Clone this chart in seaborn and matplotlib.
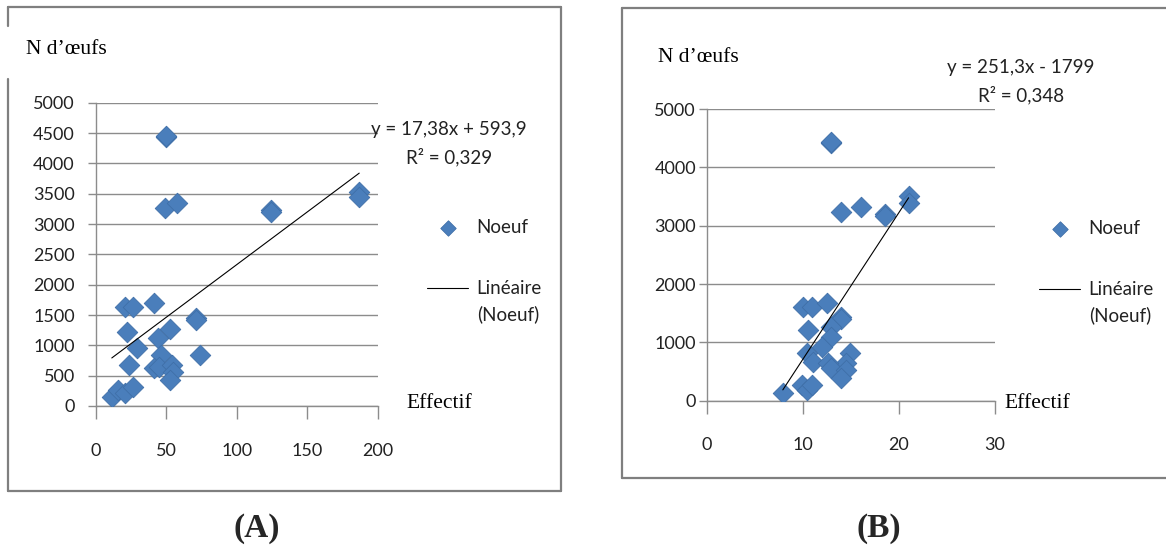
import numpy as np
import pandas as pd
import matplotlib
matplotlib.use("Agg")
import matplotlib.pyplot as plt
from matplotlib.lines import Line2D
import seaborn as sns

# ---------------- data ----------------
effectif_A = [49.8, 49.6, 48.8, 57.6, 124, 124, 186.7, 186.7, 20.6, 26.3, 41.2, 70.9, 70.9,
              22.0, 52.6, 43.8, 29.4, 46.0, 73.7, 23.9, 41.5, 44.5, 53.8, 54.5, 52.4,
              11.4, 16.1, 20.6, 26.3]
oeufs_A = [4430, 4455, 3258, 3341, 3231, 3200, 3533, 3440, 1626, 1626, 1692, 1456, 1418,
           1225, 1269, 1121, 951, 835, 841, 681, 632, 648, 676, 566, 429,
           154, 264, 220, 308]
effectif_B = [12.96, 12.9, 14.0, 16.0, 18.5, 18.5, 21.0, 21.0, 9.95, 10.9, 12.5, 14.0, 14.0,
              10.5, 12.96, 12.96, 12.0, 10.4, 14.9, 14.5, 11.0, 12.6, 12.96, 14.5, 14.0,
              7.9, 9.85, 10.4, 10.96]
oeufs_B = [4410, 4440, 3229, 3326, 3200, 3170, 3510, 3390, 1600, 1600, 1669, 1440, 1400,
           1211, 1269, 1086, 926, 811, 811, 640, 669, 640, 554, 526, 383,
           126, 269, 183, 269]

slope_A, intercept_A, r2_A = 17.38, 593.9, 0.329
slope_B, intercept_B, r2_B = 251.3, -1799, 0.348
eq_A = ["y = 17,38x + 593,9", "R² = 0,329"]
eq_B = ["y = 251,3x - 1799", "R² = 0,348"]

xticks_A = [0, 50, 100, 150, 200]
xticks_B = [0, 10, 20, 30]
yticks_A = [0, 500, 1000, 1500, 2000, 2500, 3000, 3500, 4000, 4500, 5000]
yticks_B = [0, 1000, 2000, 3000, 4000, 5000]

series_label = "Noeuf"
trend_label = "Linéaire"
trend_label2 = "(Noeuf)"
ylabel = "N d’œufs"
xlabel = "Effectif"
panel_labels = ["(A)", "(B)"]

# ---------------- style ----------------
sns.set_style("white")
plt.rcParams['font.family'] = ['Lato', 'DejaVu Sans']

W, H = 1166, 548
fig = plt.figure(figsize=(W / 100, H / 100), dpi=100)

def fx(px):
    return px / W

def fy(py):
    return 1 - py / H

GRAY = '#8c8c8c'
BLUE = '#4A7EBB'
TXT = '#222222'
SERIF = ['Liberation Serif', 'DejaVu Serif']

def panel(ax_rect, eff, oeufs, slope, intercept, xticks, yticks, ytickpad, xtickpad):
    ax = fig.add_axes(ax_rect)
    df = pd.DataFrame({'Effectif': eff, 'Noeuf': oeufs})
    sns.scatterplot(data=df, x='Effectif', y='Noeuf', marker='D', s=110,
                    color=BLUE, edgecolor='#3f6fa8', linewidth=0.6, ax=ax,
                    label=series_label, zorder=3)
    xs = np.array([min(eff), max(eff)])
    tdf = pd.DataFrame({'x': xs, 'y': slope * xs + intercept})
    sns.lineplot(data=tdf, x='x', y='y', color='black', linewidth=0.8, ax=ax,
                 label=trend_label, zorder=4)
    ax.set_xlim(xticks[0], xticks[-1])
    ax.set_ylim(yticks[0], yticks[-1])
    ax.set_xticks(xticks)
    ax.set_yticks(yticks)
    ax.set_xlabel('')
    ax.set_ylabel('')
    for s in ['top', 'right']:
        ax.spines[s].set_visible(False)
    for s in ['left', 'bottom']:
        ax.spines[s].set_color(GRAY)
        ax.spines[s].set_linewidth(1.0)
    ax.yaxis.grid(True, color=GRAY, linewidth=1.0)
    ax.xaxis.grid(False)
    ax.set_axisbelow(True)
    ax.tick_params(axis='y', direction='out', length=6, width=1, color=GRAY,
                   labelsize=13, labelcolor=TXT, pad=ytickpad, left=True)
    ax.tick_params(axis='x', direction='out', length=9, width=1, color=GRAY,
                   labelsize=13, labelcolor=TXT, pad=xtickpad, bottom=True)
    ax.get_legend().remove()
    return ax

axA = panel([fx(95.7), fy(406), fx(378) - fx(95.7), fy(102.7) - fy(406)],
            effectif_A, oeufs_A, slope_A, intercept_A, xticks_A, yticks_A, 9, 18)
axB = panel([fx(707), fy(400.7), fx(995) - fx(707), fy(109) - fy(400.7)],
            effectif_B, oeufs_B, slope_B, intercept_B, xticks_B, yticks_B, 2, 17)

# legends
legs = []
for ax, x0, y0 in [(axA, 427, 219), (axB, 1039, 220)]:
    h, l = ax.get_legend_handles_labels()
    leg = ax.legend(h, l, loc='upper left', bbox_to_anchor=(fx(x0), fy(y0)),
                    bbox_transform=fig.transFigure, frameon=False, fontsize=13.5,
                    handlelength=2.2, handletextpad=0.45, labelspacing=2.35,
                    borderpad=0, borderaxespad=0, markerscale=0.75)
    for t in leg.get_texts():
        t.set_color(TXT)
    legs.append(leg)

# equations
for lines, cx, y1, y2 in [(eq_A, 449, 129, 157), (eq_B, 1021, 67, 95)]:
    fig.text(fx(cx), fy(y1), lines[0], ha='center', va='center', fontsize=13.5, color=TXT)
    fig.text(fx(cx), fy(y2), lines[1], ha='center', va='center', fontsize=13.5, color=TXT)

# axis labels (serif)
fig.text(fx(26), fy(49), ylabel, ha='left', va='center', fontsize=15.5, family=SERIF, color='black')
fig.text(fx(658), fy(58), ylabel, ha='left', va='center', fontsize=15.5, family=SERIF, color='black')
fig.text(fx(406), fy(403), xlabel, ha='left', va='center', fontsize=15.5, family=SERIF, color='black')
fig.text(fx(1004), fy(403), xlabel, ha='left', va='center', fontsize=15.5, family=SERIF, color='black')

# panel labels
fig.text(fx(257), fy(528), panel_labels[0], ha='center', va='center', fontsize=24,
         family=SERIF, weight='bold')
fig.text(fx(879), fy(528), panel_labels[1], ha='center', va='center', fontsize=24,
         family=SERIF, weight='bold')

# panel borders
def seg(x1, y1, x2, y2):
    fig.add_artist(Line2D([fx(x1), fx(x2)], [fy(y1), fy(y2)], color='#7f7f7f',
                          linewidth=1.6, transform=fig.transFigure))

# A
seg(8, 7, 561, 7)
seg(561, 7, 561, 491)
seg(8, 491, 561, 491)
seg(8, 7, 8, 26)
seg(8, 79, 8, 491)
# B
seg(622, 8, 1166, 8)
seg(622, 8, 622, 478)
seg(622, 478, 1166, 478)

# second line of the trend legend label
fig.canvas.draw()
r = fig.canvas.get_renderer()
for leg in legs:
    t = leg.get_texts()[1]
    bb = t.get_window_extent(r)
    fig.text(bb.x0 / W, (bb.y0 - 26 + bb.height / 2) / H, trend_label2, ha='left',
             va='center', fontsize=13.5, color=TXT)

fig.savefig('out.png', dpi=100)
